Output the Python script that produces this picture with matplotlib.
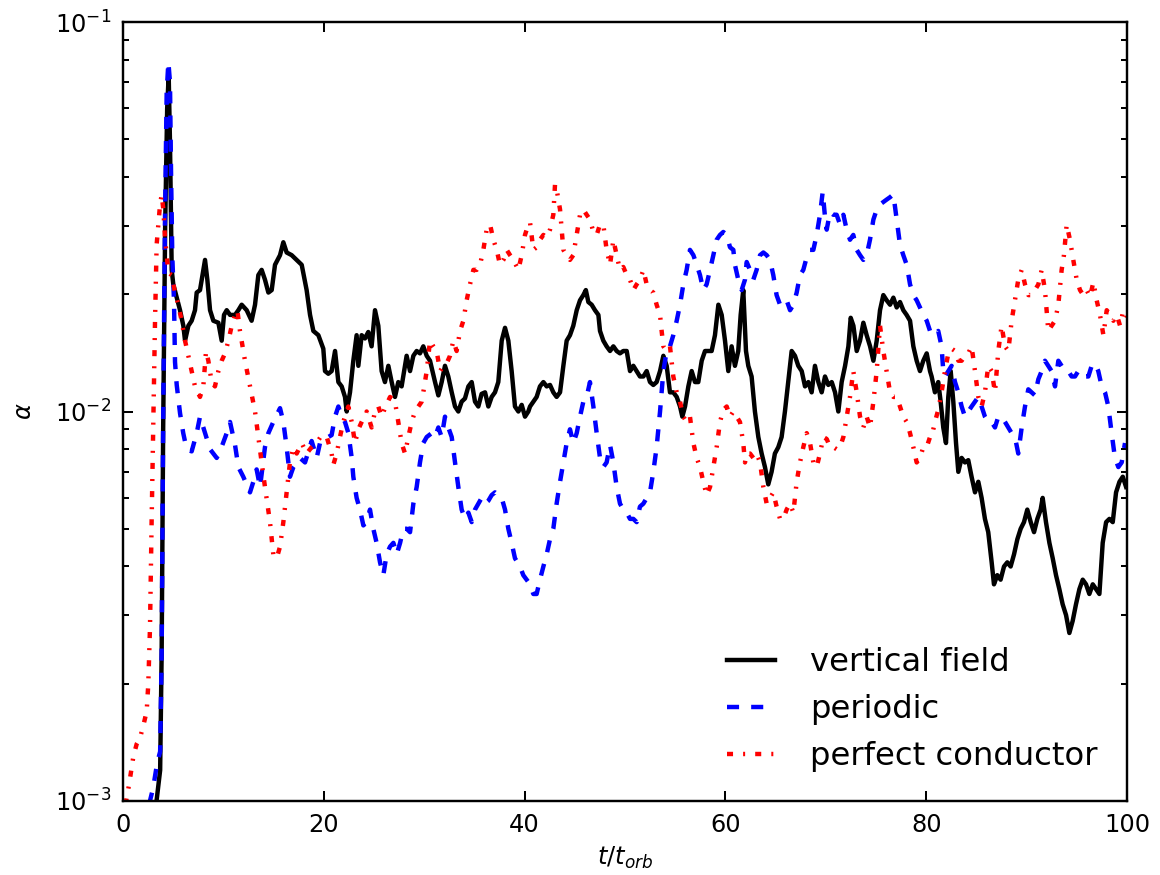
import matplotlib
matplotlib.use("Agg")
import matplotlib.pyplot as plt

plt.rcParams['lines.scale_dashes'] = False
plt.rcParams['xtick.direction'] = 'in'
plt.rcParams['ytick.direction'] = 'in'
plt.rcParams['xtick.top'] = True
plt.rcParams['ytick.right'] = True

# vertical field (black)
t_vertical = [3.3, 3.7, 3.85, 4.0, 4.2, 4.4, 4.55, 4.68, 4.85, 5.01, 5.35, 5.68, 6.01, 6.18, 6.51, 6.84,
              7.17, 7.34, 7.67, 8.0, 8.17, 8.4, 8.67, 9.0, 9.5, 9.83, 10.06, 10.33, 10.66, 11.16, 11.49,
              11.82, 12.32, 12.81, 13.15, 13.48, 13.81, 14.14, 14.48, 14.81, 15.14, 15.64, 15.97, 16.3,
              16.8, 17.3, 17.8, 18.29, 18.63, 18.96, 19.46, 19.95, 20.12, 20.45,
              20.78, 21.12, 21.45, 21.78, 22.11, 22.28, 22.61, 22.94, 23.27, 23.44, 23.77, 24.1, 24.43,
              24.76, 25.1, 25.43, 25.76, 26.09, 26.43, 26.76, 27.09, 27.42, 27.75, 28.25, 28.59, 28.92,
              29.25, 29.58, 29.91, 30.25, 30.58, 31.08, 31.41, 31.74, 32.07, 32.4, 32.74, 33.07, 33.4,
              33.73, 34.06, 34.4, 34.73, 35.06, 35.39, 35.72, 36.06, 36.39, 36.72, 37.05, 37.38, 37.72,
              38.05, 38.38, 38.71, 39.04, 39.38, 39.71, 40.04, 40.37,
              40.54, 40.87, 41.2, 41.53, 41.87, 42.2, 42.53, 42.86, 43.19, 43.53, 43.86, 44.19, 44.52,
              44.85, 45.19, 45.52, 45.85, 46.1, 46.35, 46.68, 47.01, 47.35, 47.51, 47.84, 48.17, 48.51,
              48.84, 49.17, 49.5, 49.83, 50.17, 50.5, 50.83, 51.16, 51.49, 51.83, 52.16, 52.49, 52.82,
              53.15, 53.49, 53.82, 54.15, 54.48, 54.81, 55.15, 55.48, 55.71, 55.98, 56.31, 56.64, 56.97,
              57.3, 57.64, 57.97, 58.3, 58.63, 58.96, 59.3, 59.63, 59.96, 60.29,
              60.62, 60.95, 61.28, 61.52, 61.78, 62.05, 62.28, 62.61, 62.94, 63.28, 63.61, 63.94, 64.27,
              64.6, 64.93, 65.27, 65.6, 65.93, 66.26, 66.6, 66.93, 67.26, 67.6, 67.93, 68.26, 68.59,
              68.92, 69.26, 69.59, 69.92, 70.25, 70.59, 70.92, 71.25, 71.58, 71.92, 72.25, 72.48, 72.75,
              73.08, 73.41, 73.74, 74.07, 74.41, 74.74, 75.07, 75.4, 75.73, 76.06, 76.4, 76.73, 77.06,
              77.39, 77.72, 78.05, 78.39, 78.72, 79.05, 79.38, 79.71, 80.05, 80.38,
              80.54, 80.87, 81.2, 81.44, 81.7, 81.97, 82.2, 82.44, 82.7, 82.97, 83.2, 83.53, 83.86,
              84.19, 84.52, 84.86, 85.19, 85.52, 85.85, 86.18, 86.52, 86.75, 87.08, 87.41, 87.75, 88.08,
              88.41, 88.75, 89.08, 89.41, 89.74, 90.07, 90.41, 90.74, 91.07, 91.4, 91.6, 91.93, 92.27,
              92.6, 92.93, 93.26, 93.59, 93.93, 94.26, 94.59, 94.92, 95.26, 95.59, 95.92, 96.25, 96.59,
              96.92, 97.25, 97.58, 97.92, 98.25, 98.58, 98.91, 99.25, 99.58, 99.91]
alpha_vertical = [0.00098, 0.0012, 0.0024, 0.009, 0.03, 0.06, 0.073, 0.049, 0.0231, 0.0212, 0.0196, 0.0182,
                  0.0166, 0.0152, 0.0166, 0.0171, 0.0182, 0.0202, 0.0205, 0.0231, 0.0245, 0.0218, 0.0182,
                  0.0171, 0.0169, 0.0152, 0.0177, 0.0182, 0.0177, 0.0177, 0.0182, 0.0188, 0.0182, 0.0171,
                  0.0188, 0.0224, 0.0231, 0.0218, 0.0202, 0.0205, 0.0238, 0.0252, 0.0272, 0.0256, 0.0252,
                  0.0245, 0.0238, 0.0205, 0.0177, 0.0161, 0.0157, 0.0145, 0.0127, 0.0125,
                  0.0127, 0.0143, 0.0119, 0.0116, 0.0109, 0.0100, 0.0112, 0.0135, 0.0157, 0.0131, 0.0157,
                  0.0154, 0.0160, 0.0147, 0.0182, 0.0166, 0.0127, 0.0119, 0.0131, 0.0119, 0.0109, 0.0119,
                  0.0116, 0.0139, 0.0127, 0.0139, 0.0143, 0.0141, 0.0147, 0.0139, 0.0135, 0.0119, 0.0110,
                  0.0119, 0.0131, 0.0123, 0.0112, 0.0103, 0.0100, 0.0106, 0.0108, 0.0116, 0.0119, 0.0106,
                  0.0103, 0.0111, 0.0112, 0.0103, 0.0109, 0.0112, 0.0119, 0.0152, 0.0164, 0.0152, 0.0127,
                  0.0103, 0.0100, 0.0104, 0.0097, 0.0100,
                  0.0103, 0.0106, 0.0109, 0.0116, 0.0119, 0.0116, 0.0117, 0.0112, 0.0109, 0.0112, 0.0131,
                  0.0152, 0.0157, 0.0166, 0.0182, 0.0193, 0.0199, 0.0205, 0.0191, 0.0188, 0.0182, 0.0177,
                  0.0161, 0.0152, 0.0147, 0.0143, 0.0147, 0.0143, 0.0141, 0.0143, 0.0143, 0.0127, 0.0131,
                  0.0127, 0.0123, 0.0123, 0.0127, 0.0119, 0.0117, 0.0119, 0.0127, 0.0139, 0.0131, 0.0112,
                  0.0112, 0.0109, 0.0103, 0.0097, 0.0103, 0.0116, 0.0127, 0.0119, 0.0119, 0.0135, 0.0143,
                  0.0143, 0.0143, 0.0157, 0.0188, 0.0177, 0.0152, 0.0127,
                  0.0147, 0.0131, 0.0143, 0.0177, 0.0205, 0.0143, 0.0131, 0.0123, 0.0100, 0.0086, 0.0078,
                  0.0072, 0.0065, 0.0070, 0.0078, 0.0081, 0.0086, 0.0100, 0.0119, 0.0143, 0.0139, 0.0131,
                  0.0127, 0.0116, 0.0119, 0.0112, 0.0131, 0.0119, 0.0112, 0.0123, 0.0117, 0.0119, 0.0112,
                  0.0100, 0.0119, 0.0131, 0.0147, 0.0174, 0.0166, 0.0143, 0.0152, 0.0169, 0.0157, 0.0147,
                  0.0135, 0.0152, 0.0182, 0.0199, 0.0193, 0.0188, 0.0196, 0.0185, 0.0191, 0.0182, 0.0177,
                  0.0171, 0.0147, 0.0135, 0.0127, 0.0135, 0.0141, 0.0127,
                  0.0123, 0.0112, 0.0119, 0.0106, 0.0091, 0.0083, 0.0109, 0.0127, 0.0106, 0.0083, 0.0070,
                  0.0076, 0.0074, 0.0075, 0.0068, 0.0062, 0.0066, 0.0060, 0.0053, 0.0049, 0.0041, 0.0036,
                  0.0038, 0.0037, 0.0040, 0.0041, 0.0040, 0.0043, 0.0047, 0.0050, 0.0052, 0.0056, 0.0052,
                  0.0049, 0.0053, 0.0056, 0.0060, 0.0052, 0.0046, 0.0042, 0.0038, 0.0035, 0.0032, 0.0030,
                  0.0027, 0.0029, 0.0032, 0.0035, 0.0037, 0.0036, 0.0034, 0.0036, 0.0035, 0.0034, 0.0046,
                  0.0052, 0.0053, 0.0052, 0.0062, 0.0066, 0.0068, 0.0064]

# periodic (blue)
t_periodic = [2.6, 3.0, 3.4, 3.7, 3.85, 4.0, 4.18, 4.35, 4.52, 4.68, 4.78, 4.91, 5.08, 5.18, 5.35, 5.68,
              6.0, 6.34, 6.84, 7.34, 7.67, 8.17, 8.67, 9.33, 9.66, 10.33, 10.66, 11.16, 11.49, 11.98,
              12.65, 12.98, 13.31, 13.65, 14.14, 14.48, 14.97, 15.64, 15.97, 16.3, 16.63, 16.97, 17.63,
              18.13, 18.79, 19.29, 19.62, 20.12,
              20.45, 20.78, 21.12, 21.45, 21.78, 22.11, 22.45, 22.78, 22.94, 23.27, 23.6, 23.94, 24.27,
              24.6, 24.93, 25.26, 25.6, 25.93, 26.26, 26.6, 26.93, 27.26, 27.6, 27.92, 28.25, 28.59,
              28.92, 29.25, 29.58, 29.91, 30.25, 30.75, 31.08, 31.41, 31.74, 32.07, 32.4, 32.74, 33.07,
              33.4, 33.73, 34.06, 34.4, 34.73, 35.06, 35.39, 35.72, 36.06, 36.39, 36.72, 37.05, 37.38,
              37.72, 38.05, 38.38, 38.71, 39.04, 39.54, 39.87,
              40.2, 40.54, 40.87, 41.2, 41.53, 41.87, 42.2, 42.53, 42.86, 43.19, 43.53, 43.86, 44.19,
              44.52, 44.85, 45.19, 45.52, 45.85, 46.18, 46.51, 46.85, 47.18, 47.51, 47.84, 48.17, 48.51,
              48.84, 49.17, 49.5, 49.83, 50.17, 50.5, 50.83, 51.16, 51.49, 51.83, 52.16, 52.49, 52.82,
              53.15, 53.49, 53.82, 54.15, 54.48, 54.81, 55.15, 55.48, 55.81, 56.14, 56.47, 56.81, 57.14,
              57.47, 57.8, 58.13, 58.47, 58.8, 59.13, 59.46, 59.79, 60.13,
              60.46, 60.79, 60.95, 61.28, 61.62, 61.95, 62.12, 62.45, 62.78, 63.11, 63.45, 63.78, 64.11,
              64.44, 64.77, 65.1, 65.44, 65.77, 66.1, 66.44, 66.77, 67.1, 67.43, 67.76, 68.1, 68.43,
              68.76, 69.09, 69.42, 69.69, 69.92, 70.09, 70.42, 70.75, 71.08, 71.42, 71.75, 72.08, 72.41,
              72.74, 73.08, 73.41, 73.74, 74.07, 74.4, 74.74, 75.07, 75.4, 75.73, 76.06, 76.4, 76.73,
              77.06, 77.39, 77.72, 78.06, 78.39, 78.72, 79.05, 79.38, 79.71, 80.05, 80.38,
              80.54, 80.87, 81.2, 81.53, 81.7, 81.87, 82.2, 82.53, 82.87, 83.2, 83.53, 83.86, 84.19,
              84.52, 84.86, 85.19, 85.52, 85.85, 86.18, 86.52, 86.85, 87.18, 87.51, 87.85, 88.18, 88.51,
              88.84, 89.17, 89.51, 89.84, 90.17, 90.5, 90.83, 91.17, 91.5, 91.83, 92.16, 92.49, 92.83,
              93.16, 93.49, 93.82, 94.15, 94.49, 94.82, 95.15, 95.48, 95.82, 96.15, 96.48, 96.81, 97.14,
              97.48, 97.81, 98.14, 98.47, 98.8, 99.14, 99.47, 99.8]
alpha_periodic = [0.00098, 0.00108, 0.00125, 0.00134, 0.0024, 0.0094, 0.031, 0.066, 0.079, 0.070, 0.042,
                  0.025, 0.0192, 0.0134, 0.0117, 0.0099, 0.0088, 0.0080, 0.0079, 0.0088, 0.0097, 0.0088,
                  0.0080, 0.0076, 0.0079, 0.0088, 0.0094, 0.0082, 0.0072, 0.0068, 0.0062, 0.0066, 0.0071,
                  0.0064, 0.0081, 0.0088, 0.0094, 0.0102, 0.0094, 0.0081, 0.0068, 0.0072, 0.0076, 0.0074,
                  0.0084, 0.0076, 0.0083, 0.0086,
                  0.0086, 0.0087, 0.0097, 0.0103, 0.0097, 0.0094, 0.0088, 0.0076, 0.0068, 0.0060, 0.0056,
                  0.0051, 0.0052, 0.0056, 0.0050, 0.0046, 0.0041, 0.0038, 0.0043, 0.0045, 0.0046, 0.0043,
                  0.0046, 0.0050, 0.0050, 0.0049, 0.0058, 0.0064, 0.0074, 0.0083, 0.0086, 0.0088, 0.0086,
                  0.0091, 0.0086, 0.0097, 0.0091, 0.0086, 0.0074, 0.0064, 0.0056, 0.0053, 0.0055, 0.0052,
                  0.0056, 0.0058, 0.0060, 0.0058, 0.0059, 0.0061, 0.0062, 0.0061, 0.0060, 0.0056, 0.0050,
                  0.0046, 0.0042, 0.0040, 0.0038,
                  0.0037, 0.0036, 0.0034, 0.0034, 0.0037, 0.0040, 0.0043, 0.0047, 0.0050, 0.0058, 0.0066,
                  0.0074, 0.0083, 0.0090, 0.0083, 0.0088, 0.0097, 0.0106, 0.0109, 0.0119, 0.0103, 0.0088,
                  0.0076, 0.0072, 0.0074, 0.0082, 0.0074, 0.0064, 0.0058, 0.0056, 0.0055, 0.0053, 0.0053,
                  0.0052, 0.0057, 0.0058, 0.0060, 0.0062, 0.0070, 0.0081, 0.0100, 0.0127, 0.0143, 0.0147,
                  0.0157, 0.0171, 0.0188, 0.0212, 0.0231, 0.0260, 0.0252, 0.0238, 0.0224, 0.0205, 0.0212,
                  0.0231, 0.0252, 0.0276, 0.0284, 0.0289, 0.0284,
                  0.0264, 0.0260, 0.0238, 0.0218, 0.0205, 0.0218, 0.0242, 0.0231, 0.0218, 0.0231, 0.0252,
                  0.0256, 0.0252, 0.0245, 0.0224, 0.0199, 0.0188, 0.0193, 0.0193, 0.0182, 0.0188, 0.0202,
                  0.0224, 0.0231, 0.0249, 0.0260, 0.0260, 0.0284, 0.0320, 0.0366, 0.0316, 0.0293, 0.0325,
                  0.0320, 0.0320, 0.0302, 0.0320, 0.0293, 0.0276, 0.0284, 0.0260, 0.0252, 0.0245, 0.0252,
                  0.0276, 0.0311, 0.0330, 0.0340, 0.0345, 0.0350, 0.0355, 0.0361, 0.0311, 0.0268, 0.0252,
                  0.0238, 0.0212, 0.0199, 0.0193, 0.0185, 0.0177, 0.0171, 0.0161,
                  0.0161, 0.0157, 0.0161, 0.0147, 0.0127, 0.0123, 0.0127, 0.0131, 0.0119, 0.0112, 0.0103,
                  0.0097, 0.0100, 0.0103, 0.0106, 0.0109, 0.0103, 0.0097, 0.0094, 0.0094, 0.0091, 0.0097,
                  0.0097, 0.0094, 0.0091, 0.0088, 0.0086, 0.0078, 0.0091, 0.0103, 0.0114, 0.0112, 0.0110,
                  0.0121, 0.0127, 0.0135, 0.0131, 0.0127, 0.0116, 0.0135, 0.0131, 0.0127, 0.0127, 0.0123,
                  0.0123, 0.0127, 0.0127, 0.0123, 0.0123, 0.0131, 0.0133, 0.0127, 0.0116, 0.0112, 0.0103,
                  0.0088, 0.0076, 0.0072, 0.0074, 0.0083]

# perfect conductor (red)
t_conductor = [0.25, 0.6, 1.03, 1.36, 1.69, 2.02, 2.36, 2.52, 2.69, 2.85, 3.02, 3.19, 3.35, 3.69, 3.85,
               4.02, 4.18, 4.52, 4.85, 5.18, 5.51, 5.84, 6.18, 6.51, 6.84, 7.17, 7.67, 8.0, 8.27, 8.5,
               8.83, 9.16, 9.5, 9.83, 10.16, 10.5, 10.83, 11.16, 11.39, 11.65, 12.15, 12.65, 13.15, 13.48,
               13.81, 14.14, 14.64, 14.97, 15.31, 15.64, 15.97, 16.3, 16.63, 16.97, 17.3, 17.8, 18.29,
               18.79, 19.29, 19.79,
               20.29, 20.78, 20.95, 21.28, 21.61, 21.94, 22.44, 22.78, 23.11, 23.44, 23.77, 24.27, 24.76,
               25.1, 25.43, 25.76, 26.09, 26.6, 27.09, 27.42, 27.75, 28.09, 28.42, 28.75, 29.08, 29.42,
               29.75, 29.91, 30.25, 30.58, 30.91, 31.24, 31.58, 31.91, 32.24, 32.57, 32.9, 33.23, 33.57,
               33.9, 34.23, 34.56, 34.9, 35.23, 35.56, 35.89, 36.22, 36.56, 36.89, 37.22, 37.55, 37.89,
               38.22, 38.55, 38.88, 39.38, 39.71, 40.04, 40.37,
               40.54, 40.87, 41.2, 41.53, 41.87, 42.2, 42.53, 42.86, 43.03, 43.19, 43.53, 43.7, 43.86,
               44.19, 44.52, 44.85, 45.19, 45.52, 45.85, 46.18, 46.51, 46.85, 47.18, 47.51, 47.84, 48.17,
               48.51, 48.84, 49.17, 49.5, 49.83, 50.17, 50.5, 50.83, 51.16, 51.49, 51.83, 52.16, 52.49,
               52.82, 53.15, 53.49, 53.65, 53.82, 54.15, 54.48, 54.81, 55.15, 55.48, 55.81, 56.14, 56.47,
               56.81, 57.14, 57.47, 57.8, 58.13, 58.47, 58.8, 59.13, 59.46, 59.79, 60.13, 60.46,
               60.79, 61.12, 61.45, 61.78, 61.95, 62.12, 62.45, 62.78, 63.11, 63.45, 63.78, 64.11, 64.44,
               64.77, 65.1, 65.44, 65.77, 66.1, 66.44, 66.77, 67.1, 67.43, 67.76, 68.1, 68.43, 68.76,
               69.09, 69.42, 69.76, 70.09, 70.42, 70.75, 71.08, 71.42, 71.75, 72.08, 72.41, 72.74, 73.08,
               73.41, 73.74, 74.07, 74.4, 74.74, 75.07, 75.4, 75.73, 76.06, 76.4, 76.73, 77.06, 77.39,
               77.72, 78.06, 78.39, 78.72, 79.05, 79.38, 79.71, 80.05, 80.38,
               80.54, 80.87, 81.2, 81.53, 81.87, 82.2, 82.53, 82.87, 83.2, 83.53, 83.86, 84.19, 84.52,
               84.86, 85.19, 85.52, 85.85, 86.18, 86.52, 86.85, 87.18, 87.51, 87.85, 88.18, 88.51, 88.84,
               89.17, 89.51, 89.84, 90.17, 90.5, 90.83, 91.17, 91.5, 91.83, 92.16, 92.49, 92.83, 93.16,
               93.49, 93.72, 93.99, 94.32, 94.65, 94.99, 95.32, 95.65, 95.98, 96.32, 96.65, 96.98, 97.31,
               97.65, 97.98, 98.31, 98.64, 98.98, 99.31, 99.64, 100.0]
alpha_conductor = [0.00098, 0.0011, 0.0013, 0.0014, 0.00145, 0.00156, 0.0017, 0.0020, 0.0028, 0.0052,
                   0.0094, 0.0171, 0.0268, 0.034, 0.036, 0.033, 0.028, 0.0227, 0.0224, 0.0202, 0.0188,
                   0.0171, 0.0152, 0.0139, 0.0127, 0.0116, 0.0109, 0.0116, 0.0143, 0.0135, 0.0119,
                   0.0116, 0.0127, 0.0135, 0.0141, 0.0152, 0.0166, 0.0177, 0.0182, 0.0161, 0.0135,
                   0.0116, 0.0100, 0.0086, 0.0074, 0.0064, 0.0052, 0.0043, 0.0042, 0.0045, 0.0052,
                   0.0062, 0.0074, 0.0081, 0.0078, 0.0083, 0.0078, 0.0081, 0.0083, 0.0087,
                   0.0086, 0.0078, 0.0073, 0.0078, 0.0086, 0.0094, 0.0103, 0.0094, 0.0083, 0.0090, 0.0094,
                   0.0100, 0.0091, 0.0100, 0.0103, 0.0097, 0.0102, 0.0109, 0.0106, 0.0094, 0.0083, 0.0078,
                   0.0086, 0.0094, 0.0100, 0.0103, 0.0106, 0.0112, 0.0127, 0.0152, 0.0147, 0.0143, 0.0127,
                   0.0131, 0.0133, 0.0139, 0.0152, 0.0143, 0.0161, 0.0171, 0.0193, 0.0212, 0.0231, 0.0231,
                   0.0238, 0.0260, 0.0293, 0.0302, 0.0276, 0.0260, 0.0238, 0.0245, 0.0260, 0.0252, 0.0245,
                   0.0231, 0.0252, 0.0284, 0.0302,
                   0.0306, 0.0260, 0.0264, 0.0276, 0.0284, 0.0280, 0.0293, 0.0320, 0.0383, 0.0372, 0.0330,
                   0.0293, 0.0260, 0.0252, 0.0245, 0.0252, 0.0284, 0.0320, 0.0330, 0.0320, 0.0311, 0.0289,
                   0.0284, 0.0302, 0.0302, 0.0260, 0.0238, 0.0276, 0.0252, 0.0231, 0.0235, 0.0224, 0.0218,
                   0.0205, 0.0212, 0.0218, 0.0231, 0.0212, 0.0205, 0.0202, 0.0188, 0.0177, 0.0161, 0.0147,
                   0.0143, 0.0147, 0.0123, 0.0112, 0.0106, 0.0097, 0.0094, 0.0097, 0.0083, 0.0076, 0.0072,
                   0.0066, 0.0061, 0.0064, 0.0072, 0.0081, 0.0094, 0.0101, 0.0103, 0.0097,
                   0.0100, 0.0097, 0.0094, 0.0083, 0.0074, 0.0078, 0.0078, 0.0076, 0.0078, 0.0074, 0.0064,
                   0.0058, 0.0060, 0.0062, 0.0057, 0.0053, 0.0053, 0.0056, 0.0058, 0.0055, 0.0066, 0.0074,
                   0.0081, 0.0088, 0.0083, 0.0074, 0.0072, 0.0078, 0.0086, 0.0085, 0.0081, 0.0081, 0.0080,
                   0.0081, 0.0086, 0.0097, 0.0109, 0.0127, 0.0112, 0.0097, 0.0091, 0.0097, 0.0091, 0.0106,
                   0.0127, 0.0166, 0.0143, 0.0127, 0.0112, 0.0109, 0.0109, 0.0103, 0.0097, 0.0094, 0.0088,
                   0.0081, 0.0074, 0.0076, 0.0081, 0.0081, 0.0086,
                   0.0086, 0.0094, 0.0101, 0.0112, 0.0127, 0.0141, 0.0145, 0.0143, 0.0135, 0.0135, 0.0139,
                   0.0141, 0.0147, 0.0127, 0.0109, 0.0103, 0.0112, 0.0131, 0.0127, 0.0112, 0.0143, 0.0166,
                   0.0147, 0.0143, 0.0171, 0.0193, 0.0218, 0.0231, 0.0212, 0.0199, 0.0199, 0.0205, 0.0212,
                   0.0231, 0.0205, 0.0161, 0.0166, 0.0171, 0.0188, 0.0231, 0.0252, 0.0302, 0.0276, 0.0245,
                   0.0218, 0.0205, 0.0199, 0.0205, 0.0197, 0.0215, 0.0193, 0.0177, 0.0157, 0.0182, 0.0177,
                   0.0171, 0.0177, 0.0166, 0.0182, 0.0175]

labels = ['vertical field', 'periodic', 'perfect conductor']

fig = plt.figure(figsize=(1160 / 145, 875 / 145), dpi=145)
ax = fig.add_axes([123 / 1160, 74 / 875, 1004 / 1160, 779 / 875])

ax.plot(t_vertical, alpha_vertical, color='black', lw=2.2, label=labels[0])
ax.plot(t_periodic, alpha_periodic, color='blue', lw=2.2, dashes=(6, 6), label=labels[1])
ax.plot(t_conductor, alpha_conductor, color='red', lw=2.2, dashes=(3, 5, 1, 5), label=labels[2])

ax.set_yscale('log')
ax.set_xlim(0, 100)
ax.set_ylim(1e-3, 1e-1)
ax.set_xticks([0, 20, 40, 60, 80, 100])
ax.tick_params(which='major', length=5, width=1, labelsize=12, pad=6)
ax.tick_params(which='minor', length=3, width=1)
for s in ax.spines.values():
    s.set_linewidth(1.2)

ax.set_xlabel(r'$t/t_{orb}$', fontsize=12, labelpad=4)
ax.set_ylabel(r'$\alpha$', fontsize=12, labelpad=9)

ax.legend(loc='lower right', frameon=False, fontsize=16, handlelength=1.5,
          handletextpad=1.1, labelspacing=0.5)

fig.savefig('out.png', dpi=145)
